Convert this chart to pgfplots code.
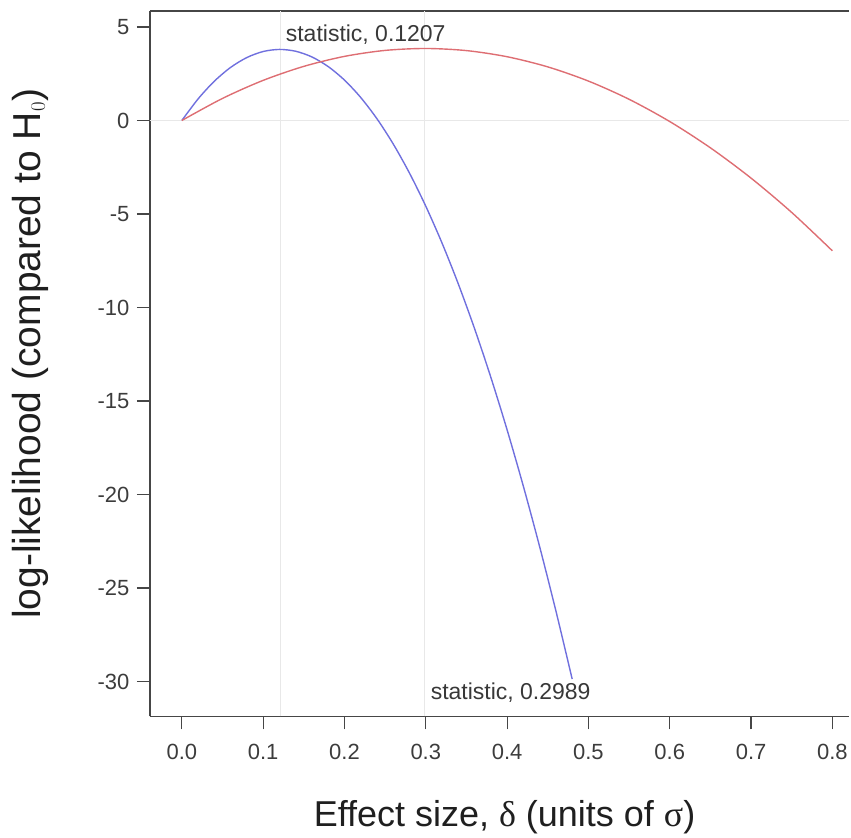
\documentclass[border=0pt]{standalone}
\usepackage{fontspec}
\setmainfont{Liberation Sans}
\newfontfamily\grk{Liberation Serif}
\usepackage{pgfplots}
\pgfplotsset{compat=1.18}
\definecolor{frame}{RGB}{70,70,70}
\definecolor{tickc}{RGB}{60,60,60}
\definecolor{bluec}{RGB}{112,112,222}
\definecolor{redc}{RGB}{222,110,115}
\definecolor{gridc}{RGB}{232,232,232}
\begin{document}
\begin{tikzpicture}
\begin{axis}[
  scale only axis,
  width=700pt, height=706pt,
  xmin=-0.0393, xmax=0.8209,
  ymin=-31.87, ymax=5.855,
  axis y line*=left,
  axis x line*=box,
  axis line style={frame, line width=1.6pt},
  xtick={0,0.1,0.2,0.3,0.4,0.5,0.6,0.7,0.8},
  ytick={-30,-25,-20,-15,-10,-5,0,5},
  xtick pos=bottom, ytick pos=left,
  tick align=outside,
  major tick length=13pt,
  tick style={frame, line width=1.2pt},
  /pgf/number format/assume math mode=true,
  xticklabel={\pgfmathprintnumber[fixed,fixed zerofill,precision=1]{\tick}},
  xticklabel style={font=\fontsize{22}{24}\selectfont, text=tickc, yshift=-11pt},
  yticklabel style={font=\fontsize{22}{24}\selectfont, text=tickc, xshift=-4pt},
  extra x ticks={0.1207,0.2989},
  extra x tick labels={},
  extra y ticks={0},
  extra y tick labels={},
  extra tick style={grid=major, major grid style={gridc, line width=0.9pt}, major tick length=0pt},
  xlabel={Effect size, {\grk δ} (units of {\grk σ})},
  xlabel style={at={(axis description cs:0.507,0)}, anchor=base, yshift=-110pt, font=\fontsize{36}{40}\selectfont, text=black!88},
  ylabel={log-likelihood (compared to H$_{\scriptscriptstyle 0}$)},
  ylabel style={at={(axis description cs:-0.1714,0.514)}, anchor=center, font=\fontsize{39}{44}\selectfont, text=black!88},
  clip=false,
]
\addplot[bluec, line width=1.4pt, smooth] coordinates {
(0,0) (0.02,1.155) (0.04,2.101) (0.06,2.839) (0.08,3.367) (0.10,3.688)
(0.12,3.799) (0.14,3.702) (0.16,3.397) (0.18,2.882) (0.20,2.159)
(0.22,1.228) (0.24,0.088) (0.26,-1.261) (0.28,-2.819) (0.30,-4.585)
(0.32,-6.560) (0.34,-8.743) (0.36,-11.135) (0.38,-13.736) (0.40,-16.545)
(0.42,-19.563) (0.44,-22.790) (0.46,-26.225) (0.48,-29.869)
};
\addplot[redc, line width=1.4pt, smooth] coordinates {
(0,0) (0.05,1.180) (0.10,2.145) (0.15,2.894) (0.20,3.428) (0.25,3.747)
(0.30,3.850) (0.35,3.737) (0.40,3.409) (0.45,2.866) (0.50,2.107)
(0.55,1.133) (0.60,-0.057) (0.65,-1.462) (0.70,-3.083) (0.75,-4.919)
(0.80,-6.970)
};
\node[font=\fontsize{23}{25}\selectfont, text=black!78, anchor=base] at (axis cs:0.2261,4.25) {statistic, 0.1207};
\node[font=\fontsize{23}{25}\selectfont, text=black!78, anchor=base] at (axis cs:0.4043,-30.94) {statistic, 0.2989};
\coordinate (sw) at (rel axis cs:0,0);
\coordinate (ne) at (rel axis cs:1,1);
\end{axis}
\path ([xshift=-150pt,yshift=-120pt]sw) rectangle ([xshift=1pt,yshift=11pt]ne);
\end{tikzpicture}
\end{document}
